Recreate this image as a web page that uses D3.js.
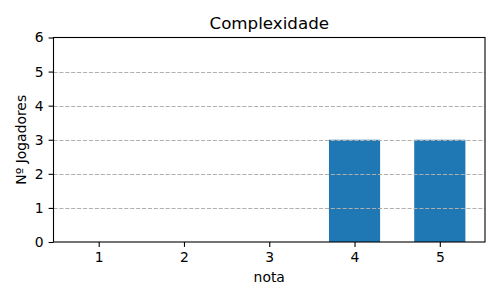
<!DOCTYPE html>
<html><head><meta charset="utf-8">
<script src="https://cdn.jsdelivr.net/npm/d3@7"></script>
<style>body{margin:0;background:#fff}text{font-family:"DejaVu Sans",sans-serif}</style>
</head><body>
<script>
const categories = [1, 2, 3, 4, 5];
const values = [0, 0, 0, 3, 3];
const yTicks = [0, 1, 2, 3, 4, 5, 6];
const title = "Complexidade";
const xLabel = "nota";
const yLabel = "Nº Jogadores";

const W = 500, H = 300;
const m = {left: 53.5, right: 15, top: 37.5, bottom: 58};
const svg = d3.select("body").append("svg").attr("width", W).attr("height", H);
const x = d3.scaleLinear().domain([0.47, 5.53]).range([m.left, W - m.right]);
const y = d3.scaleLinear().domain([0, 6]).range([H - m.bottom, m.top]);
const bw = 0.6;

svg.append("g").selectAll("rect").data(categories).join("rect")
  .attr("x", (d) => x(d - bw / 2)).attr("width", (d) => x(d + bw / 2) - x(d - bw / 2))
  .attr("y", (d, i) => y(values[i])).attr("height", (d, i) => y(0) - y(values[i]))
  .attr("fill", "#1f77b4");

svg.append("g").selectAll("line").data(yTicks.slice(1, -1)).join("line")
  .attr("x1", m.left).attr("x2", W - m.right)
  .attr("y1", (d) => Math.round(y(d)) + 0.5).attr("y2", (d) => Math.round(y(d)) + 0.5)
  .attr("stroke", "#b0b0b0").attr("stroke-width", 1.1).attr("stroke-dasharray", "4.1,1.8");

svg.append("rect").attr("x", m.left).attr("y", m.top)
  .attr("width", W - m.right - m.left).attr("height", H - m.bottom - m.top)
  .attr("fill", "none").attr("stroke", "#000").attr("stroke-width", 1.1);

const xa = svg.append("g").attr("transform", `translate(0,${H - m.bottom})`)
  .call(d3.axisBottom(x).tickValues(categories).tickSize(4.9).tickPadding(4.9).tickFormat(d3.format("d")));
const ya = svg.append("g").attr("transform", `translate(${m.left},0)`)
  .call(d3.axisLeft(y).tickValues(yTicks).tickSize(4.9).tickPadding(4.9).tickFormat(d3.format("d")));
[xa, ya].forEach(a => {
  a.select(".domain").remove();
  a.selectAll("text").attr("font-size", 13.9).attr("fill", "#000").attr("font-family", "DejaVu Sans");
  a.selectAll("line").attr("stroke", "#000").attr("stroke-width", 1.1);
});

svg.append("text").attr("x", (m.left + W - m.right) / 2).attr("y", 29)
  .attr("text-anchor", "middle").attr("font-size", 16.7).text(title);
svg.append("text").attr("x", (m.left + W - m.right) / 2).attr("y", 282)
  .attr("text-anchor", "middle").attr("font-size", 13.9).text(xLabel);
svg.append("text").attr("transform", `translate(26,${(m.top + H - m.bottom) / 2}) rotate(-90)`)
  .attr("text-anchor", "middle").attr("font-size", 13.9).text(yLabel);
</script>
</body></html>
